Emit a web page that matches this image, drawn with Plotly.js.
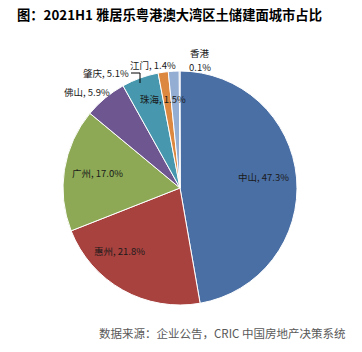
<!DOCTYPE html>
<html>
<head>
<meta charset="utf-8">
<script src="https://cdn.plot.ly/plotly-3.0.1.min.js"></script>
<style>html,body{margin:0;padding:0;background:#fff;}#chart{width:362px;height:352px;}</style>
</head>
<body>
<div id="chart"></div>
<script>
// Data
const cities = ['中山', '惠州', '广州', '佛山', '肇庆', '江门', '珠海', '香港'];
const shares = [47.3, 21.8, 17.0, 5.9, 5.1, 1.4, 1.5, 0.1];
const sliceColors = ['#4A6FA5', '#A8423F', '#8DA955', '#6E5791', '#4798AE', '#DD8840', '#94ADD3', '#3D5E8C'];
const titleText = '图：2021H1 雅居乐粤港澳大湾区土储建面城市占比';
const sourceText = '数据来源：企业公告，CRIC 中国房地产决策系统';

// label positions in pixels (centre x, centre y)
const labelPos = [[263,177],[119,251],[97,173],[87,92],[106,73],[153,65],[163,99],[200,53]];

const W = 362, H = 352;
const px = x => x / W;
const py = y => 1 - y / H;
const labelFont = {family: '"Noto Sans CJK SC", "Noto Sans", sans-serif', size: 9.5, color: '#1a1a1a'};

const annotations = [];
cities.forEach((c, i) => {
  const pct = shares[i].toFixed(1) + '%';
  if (c === '香港') {
    annotations.push({text: c, xref: 'paper', yref: 'paper', x: px(labelPos[i][0]), y: py(labelPos[i][1]),
      xanchor: 'center', yanchor: 'middle', showarrow: false, font: labelFont});
    annotations.push({text: pct, xref: 'paper', yref: 'paper', x: px(labelPos[i][0]), y: py(labelPos[i][1] + 14),
      xanchor: 'center', yanchor: 'middle', showarrow: false, font: labelFont});
  } else {
    annotations.push({text: c + ', ' + pct, xref: 'paper', yref: 'paper', x: px(labelPos[i][0]), y: py(labelPos[i][1]),
      xanchor: 'center', yanchor: 'middle', showarrow: false, font: labelFont});
  }
});
annotations.push({
  text: sourceText, xref: 'paper', yref: 'paper', x: px(348), y: py(333),
  xanchor: 'right', yanchor: 'middle', showarrow: false,
  font: {family: '"Noto Sans CJK SC", sans-serif', size: 11.5, color: '#595959'}
});

const data = [{
  type: 'pie',
  labels: cities,
  values: shares,
  sort: false,
  direction: 'clockwise',
  rotation: 0,
  textinfo: 'none',
  hoverinfo: 'label+percent',
  marker: {colors: sliceColors, line: {color: '#ffffff', width: 1}},
  domain: {x: [63 / W, 297 / W], y: [47 / H, 281 / H]},
  showlegend: false
}];

const layout = {
  width: W, height: H,
  margin: {l: 0, r: 0, t: 0, b: 0},
  paper_bgcolor: '#ffffff',
  title: {
    text: '<b>' + titleText + '</b>',
    x: px(17), xanchor: 'left', y: py(15), yanchor: 'middle',
    font: {family: '"Noto Sans CJK SC", sans-serif', size: 13.3, color: '#000000'}
  },
  annotations: annotations,
  shapes: [{
    type: 'path', xref: 'paper', yref: 'paper',
    path: 'M ' + px(131) + ' ' + py(73) + ' L ' + px(140) + ' ' + py(73) + ' L ' + px(140) + ' ' + py(83),
    line: {color: '#000000', width: 1}
  }]
};

Plotly.newPlot('chart', data, layout, {displayModeBar: false, staticPlot: true});
</script>
</body>
</html>
